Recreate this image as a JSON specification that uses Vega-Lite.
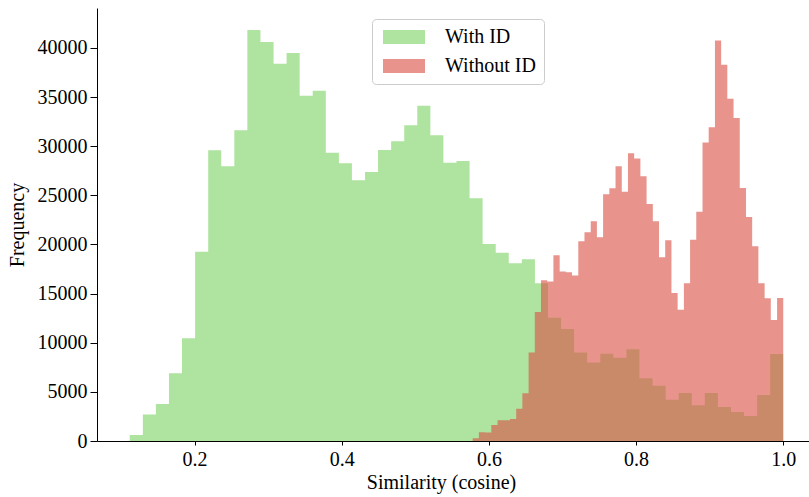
{
  "$schema": "https://vega.github.io/schema/vega-lite/v6.json",
  "autosize": {"type": "none"},
  "padding": {"left": 97, "top": 8, "right": 0, "bottom": 56},
  "width": 712,
  "height": 433,
  "background": "white",
  "config": {
    "view": {"stroke": null},
    "font": "Liberation Serif",
    "axis": {
      "grid": false,
      "domainColor": "black",
      "domainWidth": 1,
      "tickColor": "black",
      "tickWidth": 1,
      "labelFont": "Liberation Serif",
      "labelFontSize": 20,
      "labelColor": "black",
      "titleFont": "Liberation Serif",
      "titleFontSize": 20,
      "titleFontWeight": "normal",
      "titleColor": "black"
    }
  },
  "data": {
    "values": [
      {"series": "With ID", "start": 0.1120, "end": 0.1298, "count": 600},
      {"series": "With ID", "start": 0.1298, "end": 0.1475, "count": 2700},
      {"series": "With ID", "start": 0.1475, "end": 0.1653, "count": 3770},
      {"series": "With ID", "start": 0.1653, "end": 0.1830, "count": 6890},
      {"series": "With ID", "start": 0.1830, "end": 0.2008, "count": 10450},
      {"series": "With ID", "start": 0.2008, "end": 0.2186, "count": 19270},
      {"series": "With ID", "start": 0.2186, "end": 0.2363, "count": 29590},
      {"series": "With ID", "start": 0.2363, "end": 0.2541, "count": 27960},
      {"series": "With ID", "start": 0.2541, "end": 0.2718, "count": 31620},
      {"series": "With ID", "start": 0.2718, "end": 0.2896, "count": 41830},
      {"series": "With ID", "start": 0.2896, "end": 0.3074, "count": 40610},
      {"series": "With ID", "start": 0.3074, "end": 0.3251, "count": 38400},
      {"series": "With ID", "start": 0.3251, "end": 0.3429, "count": 39490},
      {"series": "With ID", "start": 0.3429, "end": 0.3606, "count": 35140},
      {"series": "With ID", "start": 0.3606, "end": 0.3784, "count": 35650},
      {"series": "With ID", "start": 0.3784, "end": 0.3962, "count": 29350},
      {"series": "With ID", "start": 0.3962, "end": 0.4139, "count": 28280},
      {"series": "With ID", "start": 0.4139, "end": 0.4317, "count": 26530},
      {"series": "With ID", "start": 0.4317, "end": 0.4494, "count": 27380},
      {"series": "With ID", "start": 0.4494, "end": 0.4672, "count": 29620},
      {"series": "With ID", "start": 0.4672, "end": 0.4850, "count": 30500},
      {"series": "With ID", "start": 0.4850, "end": 0.5027, "count": 32130},
      {"series": "With ID", "start": 0.5027, "end": 0.5205, "count": 34130},
      {"series": "With ID", "start": 0.5205, "end": 0.5382, "count": 31110},
      {"series": "With ID", "start": 0.5382, "end": 0.5560, "count": 28330},
      {"series": "With ID", "start": 0.5560, "end": 0.5738, "count": 28500},
      {"series": "With ID", "start": 0.5738, "end": 0.5915, "count": 24700},
      {"series": "With ID", "start": 0.5915, "end": 0.6093, "count": 20050},
      {"series": "With ID", "start": 0.6093, "end": 0.6270, "count": 19150},
      {"series": "With ID", "start": 0.6270, "end": 0.6448, "count": 18090},
      {"series": "With ID", "start": 0.6448, "end": 0.6626, "count": 18500},
      {"series": "With ID", "start": 0.6626, "end": 0.6803, "count": 16050},
      {"series": "With ID", "start": 0.6803, "end": 0.6981, "count": 12550},
      {"series": "With ID", "start": 0.6981, "end": 0.7158, "count": 11400},
      {"series": "With ID", "start": 0.7158, "end": 0.7336, "count": 9000},
      {"series": "With ID", "start": 0.7336, "end": 0.7514, "count": 8000},
      {"series": "With ID", "start": 0.7514, "end": 0.7691, "count": 8890},
      {"series": "With ID", "start": 0.7691, "end": 0.7869, "count": 8480},
      {"series": "With ID", "start": 0.7869, "end": 0.8046, "count": 9330},
      {"series": "With ID", "start": 0.8046, "end": 0.8224, "count": 6380},
      {"series": "With ID", "start": 0.8224, "end": 0.8402, "count": 5630},
      {"series": "With ID", "start": 0.8402, "end": 0.8579, "count": 4210},
      {"series": "With ID", "start": 0.8579, "end": 0.8757, "count": 4890},
      {"series": "With ID", "start": 0.8757, "end": 0.8934, "count": 3630},
      {"series": "With ID", "start": 0.8934, "end": 0.9112, "count": 4890},
      {"series": "With ID", "start": 0.9112, "end": 0.9290, "count": 3460},
      {"series": "With ID", "start": 0.9290, "end": 0.9467, "count": 2950},
      {"series": "With ID", "start": 0.9467, "end": 0.9645, "count": 2540},
      {"series": "With ID", "start": 0.9645, "end": 0.9822, "count": 4680},
      {"series": "With ID", "start": 0.9822, "end": 1.0000, "count": 8860},
      {"series": "Without ID", "start": 0.5780, "end": 0.5864, "count": 270},
      {"series": "Without ID", "start": 0.5864, "end": 0.5949, "count": 900},
      {"series": "Without ID", "start": 0.5949, "end": 0.6033, "count": 870},
      {"series": "Without ID", "start": 0.6033, "end": 0.6118, "count": 1630},
      {"series": "Without ID", "start": 0.6118, "end": 0.6202, "count": 2110},
      {"series": "Without ID", "start": 0.6202, "end": 0.6286, "count": 2110},
      {"series": "Without ID", "start": 0.6286, "end": 0.6371, "count": 2230},
      {"series": "Without ID", "start": 0.6371, "end": 0.6455, "count": 3270},
      {"series": "Without ID", "start": 0.6455, "end": 0.6540, "count": 4850},
      {"series": "Without ID", "start": 0.6540, "end": 0.6624, "count": 9010},
      {"series": "Without ID", "start": 0.6624, "end": 0.6708, "count": 13120},
      {"series": "Without ID", "start": 0.6708, "end": 0.6793, "count": 16350},
      {"series": "Without ID", "start": 0.6793, "end": 0.6877, "count": 16230},
      {"series": "Without ID", "start": 0.6877, "end": 0.6962, "count": 18900},
      {"series": "Without ID", "start": 0.6962, "end": 0.7046, "count": 17240},
      {"series": "Without ID", "start": 0.7046, "end": 0.7130, "count": 17180},
      {"series": "Without ID", "start": 0.7130, "end": 0.7215, "count": 16850},
      {"series": "Without ID", "start": 0.7215, "end": 0.7299, "count": 20320},
      {"series": "Without ID", "start": 0.7299, "end": 0.7384, "count": 21240},
      {"series": "Without ID", "start": 0.7384, "end": 0.7468, "count": 22360},
      {"series": "Without ID", "start": 0.7468, "end": 0.7552, "count": 20730},
      {"series": "Without ID", "start": 0.7552, "end": 0.7637, "count": 25110},
      {"series": "Without ID", "start": 0.7637, "end": 0.7721, "count": 25720},
      {"series": "Without ID", "start": 0.7721, "end": 0.7806, "count": 27960},
      {"series": "Without ID", "start": 0.7806, "end": 0.7890, "count": 25380},
      {"series": "Without ID", "start": 0.7890, "end": 0.7974, "count": 29280},
      {"series": "Without ID", "start": 0.7974, "end": 0.8059, "count": 28740},
      {"series": "Without ID", "start": 0.8059, "end": 0.8143, "count": 26940},
      {"series": "Without ID", "start": 0.8143, "end": 0.8228, "count": 24120},
      {"series": "Without ID", "start": 0.8228, "end": 0.8312, "count": 22360},
      {"series": "Without ID", "start": 0.8312, "end": 0.8396, "count": 18700},
      {"series": "Without ID", "start": 0.8396, "end": 0.8481, "count": 20420},
      {"series": "Without ID", "start": 0.8481, "end": 0.8565, "count": 15060},
      {"series": "Without ID", "start": 0.8565, "end": 0.8650, "count": 13370},
      {"series": "Without ID", "start": 0.8650, "end": 0.8734, "count": 16050},
      {"series": "Without ID", "start": 0.8734, "end": 0.8818, "count": 20490},
      {"series": "Without ID", "start": 0.8818, "end": 0.8903, "count": 23340},
      {"series": "Without ID", "start": 0.8903, "end": 0.8987, "count": 30370},
      {"series": "Without ID", "start": 0.8987, "end": 0.9072, "count": 31930},
      {"series": "Without ID", "start": 0.9072, "end": 0.9156, "count": 40750},
      {"series": "Without ID", "start": 0.9156, "end": 0.9240, "count": 38300},
      {"series": "Without ID", "start": 0.9240, "end": 0.9325, "count": 34840},
      {"series": "Without ID", "start": 0.9325, "end": 0.9409, "count": 32880},
      {"series": "Without ID", "start": 0.9409, "end": 0.9494, "count": 25750},
      {"series": "Without ID", "start": 0.9494, "end": 0.9578, "count": 22800},
      {"series": "Without ID", "start": 0.9578, "end": 0.9662, "count": 19810},
      {"series": "Without ID", "start": 0.9662, "end": 0.9747, "count": 16050},
      {"series": "Without ID", "start": 0.9747, "end": 0.9831, "count": 14520},
      {"series": "Without ID", "start": 0.9831, "end": 0.9916, "count": 12320},
      {"series": "Without ID", "start": 0.9916, "end": 1.0000, "count": 14550}
    ]
  },
  "transform": [
    {"fold": ["start", "end"], "as": ["edge", "pos"]}
  ],
  "mark": {"type": "area", "interpolate": "linear", "strokeWidth": 0},
  "encoding": {
    "x": {
      "field": "pos",
      "type": "quantitative",
      "scale": {"domain": [0.0675, 1.035], "nice": false, "zero": false},
      "axis": {
        "title": "Similarity (cosine)",
        "values": [0.2, 0.4, 0.6, 0.8, 1.0],
        "format": ".1f",
        "tickSize": 4,
        "labelPadding": 4,
        "titlePadding": 3,
        "titleX": 344
      }
    },
    "y": {
      "field": "count",
      "type": "quantitative",
      "stack": null,
      "scale": {"domain": [0, 44070], "nice": false},
      "axis": {
        "title": "Frequency",
        "values": [0, 5000, 10000, 15000, 20000, 25000, 30000, 35000, 40000],
        "format": "d",
        "tickSize": 7,
        "labelPadding": 3,
        "titlePadding": 10
      }
    },
    "order": [
      {"field": "pos", "type": "quantitative", "sort": "ascending"},
      {"field": "edge", "type": "nominal", "sort": "ascending"}
    ],
    "color": {
      "field": "series",
      "type": "nominal",
      "scale": {"domain": ["With ID", "Without ID"], "range": ["#afe4a0", "#da5247"]},
      "legend": {
        "title": null,
        "orient": "none",
        "legendX": 275,
        "legendY": 11,
        "symbolType": "M-1,-1H5V1H-1Z",
        "symbolSize": 196,
        "symbolStrokeWidth": 0,
        "labelFont": "Liberation Serif",
        "labelFontSize": 20,
        "labelColor": "black",
        "labelOffset": 45,
        "padding": 8,
        "rowPadding": 9,
        "cornerRadius": 4,
        "strokeColor": "#cccccc",
        "fillColor": "rgba(255,255,255,0.8)"
      }
    },
    "opacity": {
      "field": "series",
      "type": "nominal",
      "scale": {"domain": ["With ID", "Without ID"], "range": [1, 0.62]},
      "legend": null
    }
  }
}
